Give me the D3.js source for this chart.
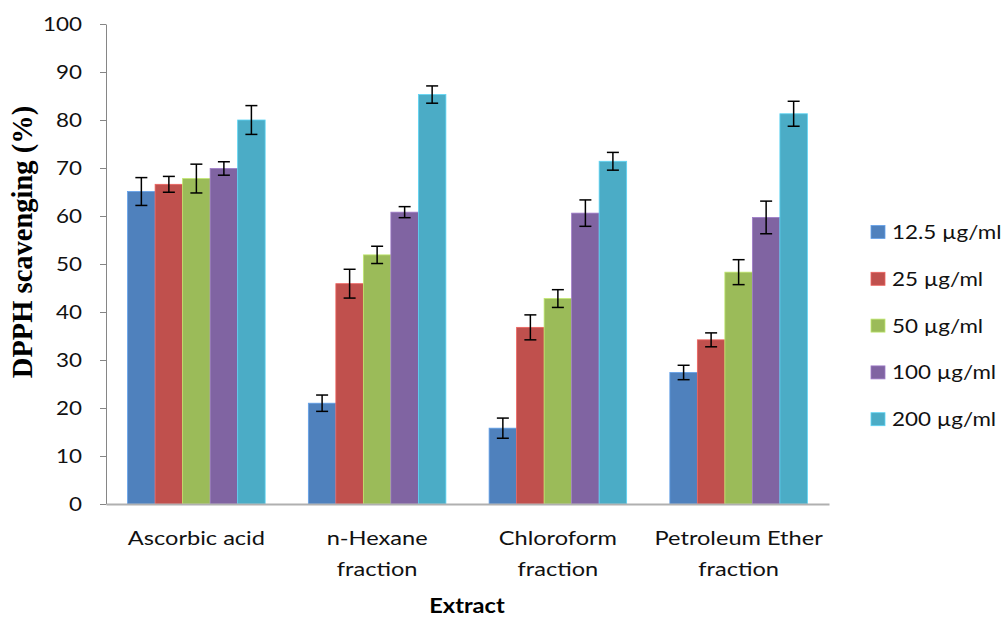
<!DOCTYPE html>
<html>
<head>
<meta charset="utf-8">
<script src="https://cdn.jsdelivr.net/npm/d3@7"></script>
<style>
  html, body { margin: 0; padding: 0; background: #fff; }
  svg { display: block; }
</style>
</head>
<body>
<svg id="chart" width="1008" height="618"></svg>
<script>
// Extracts on the x axis (line breaks mark wrapped labels)
const categories = ["Ascorbic acid", "n-Hexane\nfraction", "Chloroform\nfraction", "Petroleum Ether\nfraction"];
// Concentrations (legend entries)
const series = ["12.5 µg/ml", "25 µg/ml", "50 µg/ml", "100 µg/ml", "200 µg/ml"];
// Mean DPPH scavenging (%) per concentration, one value per extract
const conc12_5 = [65.1, 21.0, 15.8, 27.4];
const conc25   = [66.6, 45.9, 36.8, 34.2];
const conc50   = [67.8, 51.9, 42.8, 48.3];
const conc100  = [69.9, 60.8, 60.6, 59.7];
const conc200  = [80.0, 85.3, 71.4, 81.3];
// Error (± SD) per concentration, one value per extract
const err12_5 = [2.9, 1.7, 2.1, 1.5];
const err25   = [1.65, 3.0, 2.6, 1.45];
const err50   = [3.0, 1.8, 1.85, 2.6];
const err100  = [1.4, 1.15, 2.75, 3.4];
const err200  = [3.0, 1.8, 1.85, 2.6];
// Y axis ticks
const yTicks = [0, 10, 20, 30, 40, 50, 60, 70, 80, 90, 100];

const values = [conc12_5, conc25, conc50, conc100, conc200];
const errors = [err12_5, err25, err50, err100, err200];
const colors = ["#4F81BD", "#C0504D", "#9BBB59", "#8064A2", "#4BACC6"];

const svg = d3.select("#chart");
const plot = { left: 106, right: 829, top: 24, bottom: 504 };
const SX = 1.18; // horizontal stretch applied to the label text
const font = "Lato, 'Open Sans', sans-serif";

const x0 = d3.scaleBand().domain(categories)
  .range([plot.left, plot.right]).paddingInner(0.239).paddingOuter(0.1195);
const x1 = d3.scaleBand().domain(series).range([0, x0.bandwidth()]).padding(0);
const y = d3.scaleLinear().domain([0, 100]).range([plot.bottom, plot.top]);

// Y axis
const yAxis = svg.append("g")
  .attr("transform", `translate(${plot.left},0)`)
  .call(d3.axisLeft(y).tickValues(yTicks).tickSize(6).tickSizeOuter(0).tickFormat(d3.format("d")));
yAxis.select(".domain").attr("stroke", "#868686").attr("stroke-width", 1);
yAxis.selectAll(".tick line").attr("stroke", "#868686");
yAxis.selectAll(".tick text")
  .attr("font-family", font).attr("font-size", 19).attr("fill", "#111")
  .attr("x", -24 / SX).attr("dy", "0.36em")
  .attr("transform", `scale(${SX},1)`);

// Bars
const groups = svg.append("g").selectAll("g")
  .data(categories).join("g")
  .attr("transform", d => `translate(${x0(d)},0)`);

groups.each(function(cat, ci) {
  const g = d3.select(this);
  series.forEach((s, si) => {
    const v = values[si][ci];
    g.append("rect")
      .attr("x", x1(s)).attr("width", x1.bandwidth())
      .attr("y", y(v)).attr("height", y(0) - y(v))
      .attr("fill", colors[si])
      .attr("stroke", d3.color(colors[si]).brighter(0.6))
      .attr("stroke-width", 0.8);
  });
});

// X axis
const xAxis = svg.append("g")
  .attr("transform", `translate(0,${plot.bottom})`)
  .call(d3.axisBottom(x0).tickSize(0).tickSizeOuter(0).tickFormat(""));
xAxis.select(".domain").attr("stroke", "#b0b0b0").attr("stroke-width", 2);
xAxis.selectAll(".tick").each(function(d) {
  const lines = d.split("\n");
  const t = d3.select(this).append("text")
    .attr("font-family", font).attr("font-size", 20).attr("fill", "#111")
    .attr("text-anchor", "middle")
    .attr("transform", `translate(0,41) scale(${SX},1)`);
  lines.forEach((ln, i) => {
    t.append("tspan").attr("x", 0).attr("y", i * 31).text(ln);
  });
});

// Error bars
groups.each(function(cat, ci) {
  const g = d3.select(this);
  series.forEach((s, si) => {
    const v = values[si][ci], e = errors[si][ci];
    const cx = x1(s) + x1.bandwidth() / 2;
    const eb = g.append("g").attr("stroke", "#000").attr("stroke-width", 1.5);
    eb.append("line").attr("x1", cx).attr("x2", cx).attr("y1", y(v + e)).attr("y2", y(v - e));
    eb.append("line").attr("x1", cx - 6).attr("x2", cx + 6).attr("y1", y(v + e)).attr("y2", y(v + e));
    eb.append("line").attr("x1", cx - 6).attr("x2", cx + 6).attr("y1", y(v - e)).attr("y2", y(v - e));
  });
});

// Axis titles
svg.append("text")
  .attr("transform", "translate(32,242) rotate(-90)")
  .attr("text-anchor", "middle")
  .attr("font-family", "'Liberation Serif', 'Times New Roman', serif")
  .attr("font-weight", "bold").attr("font-size", 28.5)
  .text("DPPH scavenging (%)");

svg.append("text")
  .attr("transform", `translate(467,613) scale(${SX},1)`)
  .attr("text-anchor", "middle")
  .attr("font-family", font).attr("font-weight", "bold").attr("font-size", 20)
  .text("Extract");

// Legend
const legend = svg.append("g").selectAll("g")
  .data(series).join("g")
  .attr("transform", (d, i) => `translate(871,${232 + i * 46.8})`);
legend.append("rect")
  .attr("x", 0).attr("y", -6.5).attr("width", 14).attr("height", 13)
  .attr("fill", (d, i) => colors[i])
  .attr("stroke", (d, i) => d3.color(colors[i]).brighter(0.6)).attr("stroke-width", 0.8);
legend.append("text")
  .attr("transform", `translate(21,7) scale(${SX},1)`)
  .attr("font-family", font).attr("font-size", 19).attr("fill", "#111")
  .text(d => d);
</script>
</body>
</html>
